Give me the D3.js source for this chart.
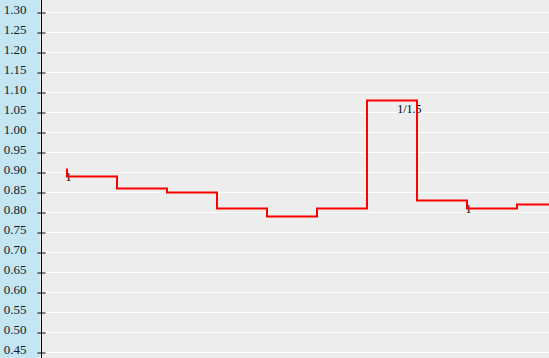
<!DOCTYPE html>
<html>
<head>
<meta charset="utf-8">
<script src="https://cdn.jsdelivr.net/npm/d3@7"></script>
<style>
  html, body { margin: 0; padding: 0; background: #ededed; overflow: hidden; }
  svg { display: block; }
  text { font-family: "Liberation Serif", "Times New Roman", serif; font-size: 12px; }
</style>
</head>
<body>
<div id="chart"></div>
<script>
var width = 549;
var height = 358;

// y axis ticks (top to bottom in the picture)
var tick_values = [1.30, 1.25, 1.20, 1.15, 1.10, 1.05, 1.00, 0.95, 0.90, 0.85, 0.80,
  0.75, 0.70, 0.65, 0.60, 0.55, 0.50, 0.45];

// step series: position index and value
var step_x = [0, 0, 1, 2, 3, 4, 5, 6, 7, 8, 9, 10];
var step_y = [0.91, 0.89, 0.86, 0.85, 0.81, 0.79, 0.81, 1.08, 0.83, 0.81, 0.82, 0.82];

// little labels sitting on some of the steps
var label_x = [0, 7, 8];
var label_text = ["1", "1/1.5", "1"];

var svg = d3.select("#chart").append("svg")
  .attr("width", width)
  .attr("height", height);

var x = d3.scaleLinear().domain([0, 10]).range([67, 567]);
var y = d3.scaleLinear().domain([0.45, 1.30]).range([352.5, 12.5]);

svg.append("rect")
  .attr("width", width).attr("height", height)
  .attr("fill", "#ededed");

// blue band behind the axis labels
svg.append("rect")
  .attr("x", 0).attr("y", 0)
  .attr("width", 40).attr("height", height)
  .attr("fill", "#c3e6f2");

// grid
svg.append("g").selectAll("line")
  .data(tick_values)
  .enter().append("line")
  .attr("x1", 41).attr("x2", width)
  .attr("y1", function(d){ return y(d); })
  .attr("y2", function(d){ return y(d); })
  .attr("stroke", "#ffffff")
  .attr("stroke-width", 1);

// axis
var axis = d3.axisLeft(y)
  .tickValues(tick_values)
  .tickFormat(d3.format(".2f"))
  .tickSizeInner(4)
  .tickSizeOuter(0);

var ax = svg.append("g")
  .attr("transform", "translate(41.5,0)")
  .call(axis);

ax.select(".domain")
  .attr("d", "M0,0V" + height)
  .attr("stroke", "#000");

ax.selectAll(".tick line")
  .attr("x1", -4).attr("x2", 4)
  .attr("stroke", "#000");

ax.selectAll(".tick text")
  .attr("x", -15)
  .attr("dy", "0.05em")
  .attr("fill", "#0a1a30")
  .style("font-family", "'Liberation Serif', 'Times New Roman', serif")
  .style("font-size", "13px");

// labels go under the line
var points = step_x.map(function(d, i){ return [d, step_y[i]]; });

function topAt(k) {
  var vals = points.filter(function(p){ return p[0] === k; }).map(function(p){ return p[1]; });
  var prev = points.filter(function(p){ return p[0] === k - 1; }).map(function(p){ return p[1]; });
  return d3.max(vals.concat(prev.slice(-1)));
}

svg.append("g").selectAll("text")
  .data(label_x)
  .enter().append("text")
  .attr("x", function(d){ return x(d) + 4.5; })
  .attr("y", function(d){ return y(topAt(d)) + 12.5; })
  .attr("text-anchor", "end")
  .attr("fill", "#000")
  .text(function(d, i){ return label_text[i]; });

var line = d3.line()
  .x(function(d){ return x(d[0]); })
  .y(function(d){ return y(d[1]); })
  .curve(d3.curveStepAfter);

svg.append("path")
  .datum(points)
  .attr("d", line)
  .attr("fill", "none")
  .attr("stroke", "#ff0000")
  .attr("stroke-width", 2);
</script>
</body>
</html>
